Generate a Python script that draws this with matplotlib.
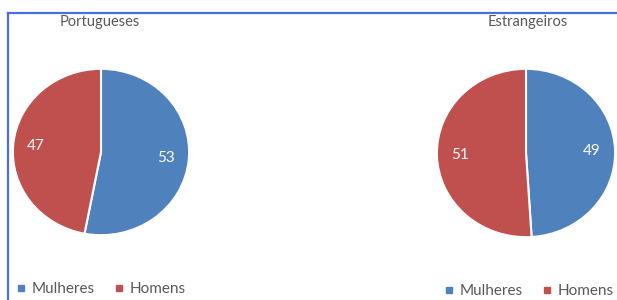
import matplotlib
matplotlib.use("Agg")
import matplotlib.pyplot as plt
from matplotlib.lines import Line2D

plt.rcParams['font.family'] = ['Lato', 'DejaVu Sans']

categories = ["Mulheres", "Homens"]
portugueses = [53, 47]
estrangeiros = [49, 51]
titles = ["Portugueses", "Estrangeiros"]
colors = ["#4F81BD", "#C0504D"]
text_grey = "#595959"

W, H = 617, 300
fig = plt.figure(figsize=(W / 100, H / 100), dpi=100)

def px_axes(x0, y0, x1, y1):
    # pixel box (top-left origin) -> figure fraction
    return fig.add_axes([x0 / W, 1 - y1 / H, (x1 - x0) / W, (y1 - y0) / H])

boxes = [(12, 68, 190, 236), (436, 68, 616, 238)]
label_pos = [(100, 22), (528, 22)]
legend_pos = [(16, 289), (444, 291)]

for vals, box, title, tpos, lpos in zip([portugueses, estrangeiros], boxes, titles, label_pos, legend_pos):
    ax = px_axes(*box)
    wedges, texts, autotexts = ax.pie(
        vals, colors=colors, startangle=90, counterclock=False,
        autopct=lambda p: f"{p:.0f}", pctdistance=0.74,
        wedgeprops=dict(edgecolor="white", linewidth=1.5),
        textprops=dict(color="white", fontsize=11))
    ax.set_xlim(-1.01, 1.01)
    ax.set_ylim(-1.01, 1.01)
    ax.set_aspect("auto")
    ax.axis("off")
    fig.text(tpos[0] / W, 1 - tpos[1] / H, title, ha="center", va="center",
             fontsize=10.5, color=text_grey)
    handles = [Line2D([], [], marker="s", linestyle="none", markersize=4.5,
                      markerfacecolor=c, markeredgecolor=c) for c in colors]
    fig.legend(handles, categories, loc="center left",
               bbox_to_anchor=(lpos[0] / W, 1 - lpos[1] / H),
               frameon=False, fontsize=11, labelcolor=text_grey,
               ncol=2, handlelength=0.6, handletextpad=0.4, columnspacing=1.3,
               borderpad=0, borderaxespad=0)

# blue frame lines
border = "#4A6FE3"
fig.add_artist(Line2D([8 / W, 1.0], [1 - 12.5 / H, 1 - 12.5 / H], color=border, linewidth=1.6,
                      transform=fig.transFigure))
fig.add_artist(Line2D([8 / W, 8 / W], [0, 1 - 12.5 / H], color=border, linewidth=1.6,
                      transform=fig.transFigure))

fig.savefig("out.png", dpi=100, facecolor="white")
